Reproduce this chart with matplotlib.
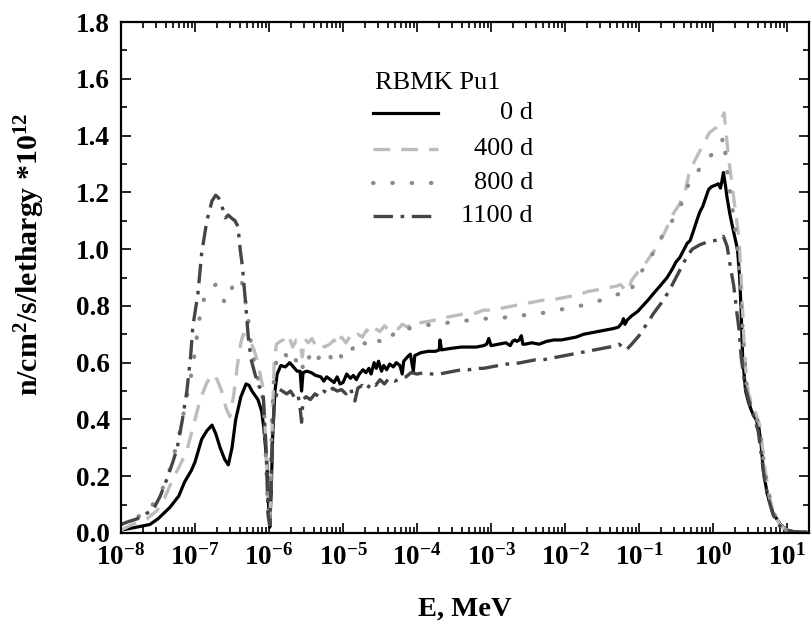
import numpy as np
import matplotlib
matplotlib.use("Agg")
import matplotlib.pyplot as plt
from matplotlib.lines import Line2D
from matplotlib.ticker import FixedLocator, FuncFormatter, LogLocator, MultipleLocator, NullFormatter

plt.rcParams['font.family'] = ['Liberation Serif', 'DejaVu Serif']
plt.rcParams['mathtext.fontset'] = 'custom'
plt.rcParams['mathtext.rm'] = 'Liberation Serif'
plt.rcParams['mathtext.bf'] = 'Liberation Serif:bold'
plt.rcParams['mathtext.it'] = 'Liberation Serif:italic'
plt.rcParams['lines.scale_dashes'] = False

# ---------------- data (log10 E [MeV], flux *1e12) ----------------
logE_0d = [-8.00, -7.80, -7.61, -7.50, -7.34, -7.22, -7.14, -7.05, -7.00, -6.91, -6.84, -6.77, -6.72,
           -6.66, -6.60, -6.55, -6.50, -6.45, -6.38, -6.31, -6.27, -6.23, -6.15, -6.10, -6.07, -6.03,
           -6.01, -5.99, -5.97, -5.95, -5.92, -5.89, -5.84, -5.78, -5.72, -5.67, -5.62, -5.58, -5.56,
           -5.54, -5.49, -5.43, -5.37, -5.30, -5.26, -5.22, -5.17, -5.12, -5.08, -5.04, -5.00, -4.95,
           -4.90, -4.86, -4.82, -4.78, -4.73, -4.69, -4.65, -4.62, -4.58, -4.55, -4.52, -4.48, -4.45,
           -4.41, -4.37, -4.32, -4.28, -4.23, -4.20, -4.18, -4.13, -4.09, -4.05, -4.03, -3.95, -3.85,
           -3.75, -3.70, -3.69, -3.67, -3.55, -3.40, -3.30, -3.20, -3.10, -3.06, -3.03, -3.00, -2.90,
           -2.80, -2.74, -2.71, -2.68, -2.65, -2.62, -2.59, -2.57, -2.54, -2.45, -2.35, -2.25, -2.15,
           -2.05, -1.95, -1.85, -1.75, -1.65, -1.55, -1.45, -1.35, -1.28, -1.23, -1.21, -1.19, -1.16,
           -1.10, -1.02, -0.95, -0.88, -0.80, -0.70, -0.62, -0.55, -0.50, -0.45, -0.40, -0.35, -0.31,
           -0.27, -0.22, -0.18, -0.14, -0.10, -0.06, -0.02, 0.03, 0.07, 0.10, 0.12, 0.14, 0.17, 0.19,
           0.23, 0.27, 0.33, 0.36, 0.38, 0.40, 0.44, 0.48, 0.52, 0.58, 0.62, 0.65, 0.68, 0.73, 0.81,
           0.91, 1.00, 1.10, 1.30]
flux_0d = [0.01, 0.02, 0.03, 0.05, 0.09, 0.13, 0.18, 0.22, 0.25, 0.33, 0.36, 0.38, 0.35,
           0.30, 0.26, 0.24, 0.30, 0.40, 0.48, 0.525, 0.52, 0.50, 0.47, 0.43, 0.37, 0.25,
           0.12, 0.02, 0.15, 0.35, 0.50, 0.56, 0.59, 0.585, 0.60, 0.585, 0.57, 0.57, 0.50,
           0.565, 0.57, 0.565, 0.555, 0.55, 0.535, 0.55, 0.54, 0.53, 0.55, 0.525, 0.53, 0.56,
           0.545, 0.555, 0.54, 0.56, 0.575, 0.565, 0.58, 0.56, 0.60, 0.58, 0.605, 0.57, 0.59,
           0.575, 0.595, 0.585, 0.60, 0.59, 0.56, 0.605, 0.62, 0.63, 0.57, 0.625, 0.635, 0.64,
           0.64, 0.645, 0.68, 0.645, 0.65, 0.655, 0.655, 0.655, 0.66, 0.665, 0.685, 0.66, 0.665,
           0.67, 0.66, 0.675, 0.68, 0.675, 0.68, 0.695, 0.665, 0.665, 0.67, 0.665, 0.675, 0.68,
           0.68, 0.685, 0.69, 0.70, 0.705, 0.71, 0.715, 0.72, 0.725, 0.74, 0.755, 0.735, 0.75,
           0.765, 0.78, 0.80, 0.82, 0.845, 0.875, 0.90, 0.93, 0.955, 0.97, 0.995, 1.02, 1.03,
           1.06, 1.10, 1.13, 1.15, 1.18, 1.21, 1.22, 1.225, 1.23, 1.215, 1.24, 1.27, 1.22, 1.18,
           1.12, 1.07, 1.00, 0.90, 0.78, 0.62, 0.50, 0.46, 0.43, 0.40, 0.37, 0.31, 0.22, 0.14, 0.07,
           0.03, 0.01, 0.004, 0.002]

logE_400d = [-8.00, -7.85, -7.65, -7.51, -7.40, -7.30, -7.20, -7.11, -7.02, -6.93, -6.84, -6.76, -6.70,
             -6.64, -6.58, -6.53, -6.48, -6.43, -6.38, -6.35, -6.30, -6.26, -6.21, -6.16, -6.12, -6.08,
             -6.04, -6.01, -5.99, -5.96, -5.93, -5.90, -5.85, -5.81, -5.76, -5.72, -5.68, -5.63, -5.58,
             -5.55, -5.52, -5.47, -5.42, -5.37, -5.30, -5.25, -5.18, -5.12, -5.07, -5.02, -4.96, -4.90,
             -4.85, -4.80, -4.74, -4.68, -4.62, -4.57, -4.50, -4.44, -4.38, -4.32, -4.25, -4.20, -4.12,
             -4.05, -3.98, -3.85, -3.75, -3.68, -3.60, -3.50, -3.40, -3.30, -3.20, -3.10, -3.00, -2.90,
             -2.80, -2.70, -2.60, -2.50, -2.40, -2.30, -2.20, -2.10, -2.00, -1.90, -1.80, -1.70, -1.60,
             -1.50, -1.40, -1.30, -1.25, -1.20, -1.15, -1.10, -1.00, -0.90, -0.78, -0.65, -0.55, -0.45,
             -0.38, -0.33, -0.25, -0.15, -0.05, 0.05, 0.10, 0.15, 0.18, 0.21, 0.26, 0.31, 0.35, 0.38,
             0.41, 0.44, 0.48, 0.53, 0.58, 0.63, 0.67, 0.71, 0.76, 0.82, 0.90, 0.98, 1.10, 1.30]
flux_400d = [0.01, 0.03, 0.05, 0.08, 0.13, 0.19, 0.24, 0.29, 0.38, 0.47, 0.53, 0.56, 0.54,
             0.50, 0.44, 0.41, 0.48, 0.585, 0.67, 0.70, 0.695, 0.68, 0.65, 0.61, 0.56, 0.51,
             0.30, 0.05, 0.02, 0.35, 0.60, 0.665, 0.675, 0.68, 0.665, 0.685, 0.655, 0.68, 0.675,
             0.62, 0.685, 0.67, 0.685, 0.66, 0.67, 0.655, 0.665, 0.68, 0.66, 0.69, 0.67, 0.695,
             0.685, 0.70, 0.69, 0.715, 0.70, 0.72, 0.71, 0.73, 0.715, 0.725, 0.72, 0.735, 0.725,
             0.745, 0.74, 0.745, 0.75, 0.75, 0.76, 0.765, 0.77, 0.775, 0.775, 0.785, 0.785, 0.79,
             0.795, 0.80, 0.805, 0.81, 0.815, 0.82, 0.82, 0.825, 0.83, 0.835, 0.84, 0.85, 0.855,
             0.86, 0.865, 0.87, 0.875, 0.86, 0.85, 0.89, 0.925, 0.955, 1.00, 1.06, 1.12, 1.16,
             1.20, 1.26, 1.31, 1.36, 1.41, 1.43, 1.45, 1.48, 1.40, 1.32, 1.22, 1.12, 1.04, 0.90,
             0.72, 0.58, 0.49, 0.45, 0.42, 0.38, 0.30, 0.21, 0.13, 0.07, 0.03, 0.012, 0.004, 0.002]

logE_800d = [-8.00, -7.85, -7.65, -7.47, -7.38, -7.30, -7.22, -7.14, -7.08, -7.03, -6.97, -6.92, -6.87,
             -6.80, -6.72, -6.66, -6.60, -6.55, -6.49, -6.43, -6.39, -6.35, -6.32, -6.28, -6.25, -6.19,
             -6.12, -6.07, -6.04, -6.01, -5.99, -5.96, -5.93, -5.89, -5.84, -5.78, -5.73, -5.68, -5.62,
             -5.58, -5.53, -5.48, -5.43, -5.38, -5.32, -5.27, -5.20, -5.14, -5.08, -5.02, -4.96, -4.90,
             -4.84, -4.78, -4.72, -4.65, -4.58, -4.50, -4.44, -4.36, -4.28, -4.20, -4.12, -4.02, -3.90,
             -3.80, -3.70, -3.60, -3.50, -3.40, -3.30, -3.20, -3.10, -3.00, -2.90, -2.80, -2.70, -2.60,
             -2.50, -2.40, -2.30, -2.20, -2.10, -2.00, -1.90, -1.80, -1.70, -1.60, -1.50, -1.40, -1.30,
             -1.22, -1.15, -1.08, -0.99, -0.90, -0.80, -0.68, -0.58, -0.47, -0.40, -0.33, -0.22, -0.13,
             -0.03, 0.05, 0.10, 0.14, 0.17, 0.20, 0.26, 0.32, 0.36, 0.39, 0.42, 0.46, 0.52, 0.58, 0.63,
             0.67, 0.72, 0.77, 0.83, 0.90, 0.98, 1.10, 1.30]
flux_800d = [0.03, 0.05, 0.07, 0.14, 0.19, 0.26, 0.34, 0.44, 0.52, 0.585, 0.70, 0.79, 0.83,
             0.86, 0.875, 0.86, 0.81, 0.83, 0.87, 0.89, 0.90, 0.87, 0.82, 0.75, 0.68, 0.585,
             0.515, 0.46, 0.25, 0.05, 0.03, 0.40, 0.56, 0.62, 0.64, 0.63, 0.61, 0.63, 0.60,
             0.62, 0.57, 0.61, 0.63, 0.60, 0.62, 0.605, 0.63, 0.61, 0.64, 0.62, 0.65, 0.64,
             0.66, 0.645, 0.67, 0.66, 0.685, 0.675, 0.70, 0.69, 0.71, 0.705, 0.72, 0.725, 0.73,
             0.735, 0.74, 0.74, 0.745, 0.745, 0.75, 0.75, 0.755, 0.755, 0.755, 0.76, 0.765, 0.765,
             0.77, 0.775, 0.775, 0.78, 0.785, 0.79, 0.795, 0.80, 0.805, 0.815, 0.82, 0.83, 0.84,
             0.845, 0.84, 0.87, 0.91, 0.95, 0.99, 1.05, 1.09, 1.13, 1.18, 1.23, 1.27, 1.30,
             1.33, 1.35, 1.365, 1.395, 1.33, 1.25, 1.15, 1.03, 0.90, 0.76, 0.63, 0.50, 0.44, 0.41, 0.37,
             0.28, 0.19, 0.12, 0.065, 0.03, 0.012, 0.004, 0.002]

logE_1100d = [-8.00, -7.90, -7.78, -7.65, -7.57, -7.47, -7.38, -7.30, -7.24, -7.17, -7.11, -7.06, -7.03,
              -6.96, -6.91, -6.84, -6.77, -6.72, -6.68, -6.64, -6.59, -6.55, -6.51, -6.46, -6.42, -6.39,
              -6.36, -6.32, -6.28, -6.24, -6.19, -6.14, -6.08, -6.04, -6.01, -5.99, -5.96, -5.93, -5.88,
              -5.82, -5.76, -5.71, -5.66, -5.61, -5.58, -5.56, -5.54, -5.50, -5.44, -5.38, -5.32, -5.26,
              -5.20, -5.14, -5.08, -5.02, -4.96, -4.90, -4.84, -4.80, -4.74, -4.68, -4.62, -4.56, -4.50,
              -4.44, -4.38, -4.30, -4.22, -4.15, -4.08, -4.00, -3.90, -3.80, -3.70, -3.60, -3.50, -3.40,
              -3.30, -3.20, -3.10, -3.00, -2.90, -2.80, -2.70, -2.60, -2.50, -2.40, -2.30, -2.20, -2.10,
              -2.00, -1.90, -1.80, -1.70, -1.60, -1.50, -1.40, -1.32, -1.27, -1.22, -1.17, -1.10, -1.00,
              -0.90, -0.80, -0.70, -0.60, -0.50, -0.42, -0.35, -0.28, -0.18, -0.08, 0.02, 0.10, 0.14,
              0.19, 0.24, 0.28, 0.32, 0.35, 0.38, 0.43, 0.47, 0.51, 0.55, 0.61, 0.66, 0.70, 0.75, 0.81,
              0.88, 0.96, 1.10, 1.30]
flux_1100d = [0.03, 0.04, 0.05, 0.07, 0.08, 0.13, 0.19, 0.25, 0.30, 0.40, 0.50, 0.62, 0.725,
              0.845, 0.985, 1.10, 1.17, 1.19, 1.18, 1.155, 1.11, 1.12, 1.11, 1.10, 1.08, 1.00,
              0.94, 0.82, 0.69, 0.61, 0.56, 0.52, 0.49, 0.30, 0.06, 0.03, 0.30, 0.45, 0.51,
              0.50, 0.49, 0.50, 0.48, 0.49, 0.44, 0.39, 0.47, 0.48, 0.47, 0.49, 0.48, 0.50,
              0.49, 0.51, 0.50, 0.505, 0.49, 0.51, 0.465, 0.51, 0.52, 0.505, 0.53, 0.52, 0.54,
              0.525, 0.545, 0.535, 0.545, 0.55, 0.565, 0.56, 0.565, 0.56, 0.56, 0.565, 0.57, 0.575,
              0.575, 0.58, 0.58, 0.585, 0.59, 0.595, 0.595, 0.60, 0.605, 0.61, 0.61, 0.615, 0.62,
              0.625, 0.63, 0.635, 0.64, 0.645, 0.65, 0.655, 0.66, 0.665, 0.655, 0.645, 0.665, 0.695,
              0.735, 0.775, 0.81, 0.85, 0.90, 0.94, 0.975, 1.00, 1.015, 1.025, 1.03, 1.035, 1.045,
              1.01, 0.93, 0.87, 0.78, 0.72, 0.62, 0.52, 0.48, 0.44, 0.41, 0.36, 0.26, 0.18, 0.12, 0.065,
              0.03, 0.012, 0.004, 0.002]

series_labels = ['0 d', '400 d', '800 d', '1100 d']
legend_title = 'RBMK Pu1'
x_ticks = [1e-8, 1e-7, 1e-6, 1e-5, 1e-4, 1e-3, 1e-2, 1e-1, 1e0, 1e1]
y_ticks = [0.0, 0.2, 0.4, 0.6, 0.8, 1.0, 1.2, 1.4, 1.6, 1.8]

# ---------------- styles ----------------
styles = [
    dict(color='#000000', lw=2.3, ls='-'),
    dict(color='#bdbdbd', lw=2.4, ls=(0, (12.0, 8.0))),
    dict(color='#8a8a8a', lw=3.0, ls=(0, (0.4, 13.5)), dash_capstyle='round'),
    dict(color='#454545', lw=2.4, ls=(0, (14.0, 5.5, 2.6, 5.5))),
]

fig = plt.figure(figsize=(8.11, 6.28), dpi=100)
ax = fig.add_axes([121/811, 95/628, 688/811, 511/628])

all_x = [logE_0d, logE_400d, logE_800d, logE_1100d]
all_y = [flux_0d, flux_400d, flux_800d, flux_1100d]
for xs, ys, st in zip(all_x, all_y, styles):
    ax.plot(10.0 ** np.asarray(xs), ys, **st)

ax.set_xscale('log')
ax.set_xlim(1e-8, 19.8)
ax.set_ylim(0, 1.8)

ax.xaxis.set_major_locator(FixedLocator(x_ticks))
ax.xaxis.set_minor_locator(LogLocator(base=10, subs=np.arange(2, 10), numticks=100))
ax.xaxis.set_minor_formatter(NullFormatter())
ax.xaxis.set_major_formatter(FuncFormatter(lambda v, p: r'$\mathbf{10^{%d}}$' % int(round(np.log10(v)))))
ax.yaxis.set_major_locator(FixedLocator(y_ticks))
ax.yaxis.set_minor_locator(MultipleLocator(0.1))
ax.yaxis.set_major_formatter(FuncFormatter(lambda v, p: '%.1f' % v))

ax.tick_params(which='both', direction='in', top=True, right=True, width=1.2)
ax.tick_params(which='major', length=7.5, labelsize=19.5, pad=8)
ax.tick_params(which='minor', length=4)
for lab in ax.get_yticklabels():
    lab.set_fontweight('bold')
for sp in ax.spines.values():
    sp.set_linewidth(1.6)

ax.set_xlabel('E, MeV', fontsize=20.5, fontweight='bold', labelpad=19)
ax.set_ylabel(r'n/cm$^{\mathbf{2}}$/s/lethargy *10$^{\mathbf{12}}$', fontsize=21.5,
              fontweight='bold')
ax.yaxis.set_label_coords(-0.108, 0.546)

# ---------------- legend (drawn in axes coordinates) ----------------
ax.text(0.369, 0.8806, legend_title, transform=ax.transAxes, fontsize=19,
        ha='left', va='center')
row_y = [0.8219, 0.7515, 0.6849, 0.6204]
for lbl, st, yy in zip(series_labels, styles, row_y):
    ax.add_line(Line2D([0.3663, 0.4608], [yy, yy], transform=ax.transAxes, **st))
    ax.text(0.5988, yy, lbl, transform=ax.transAxes, fontsize=19, ha='right', va='center')

fig.savefig('out.png', dpi=100)
